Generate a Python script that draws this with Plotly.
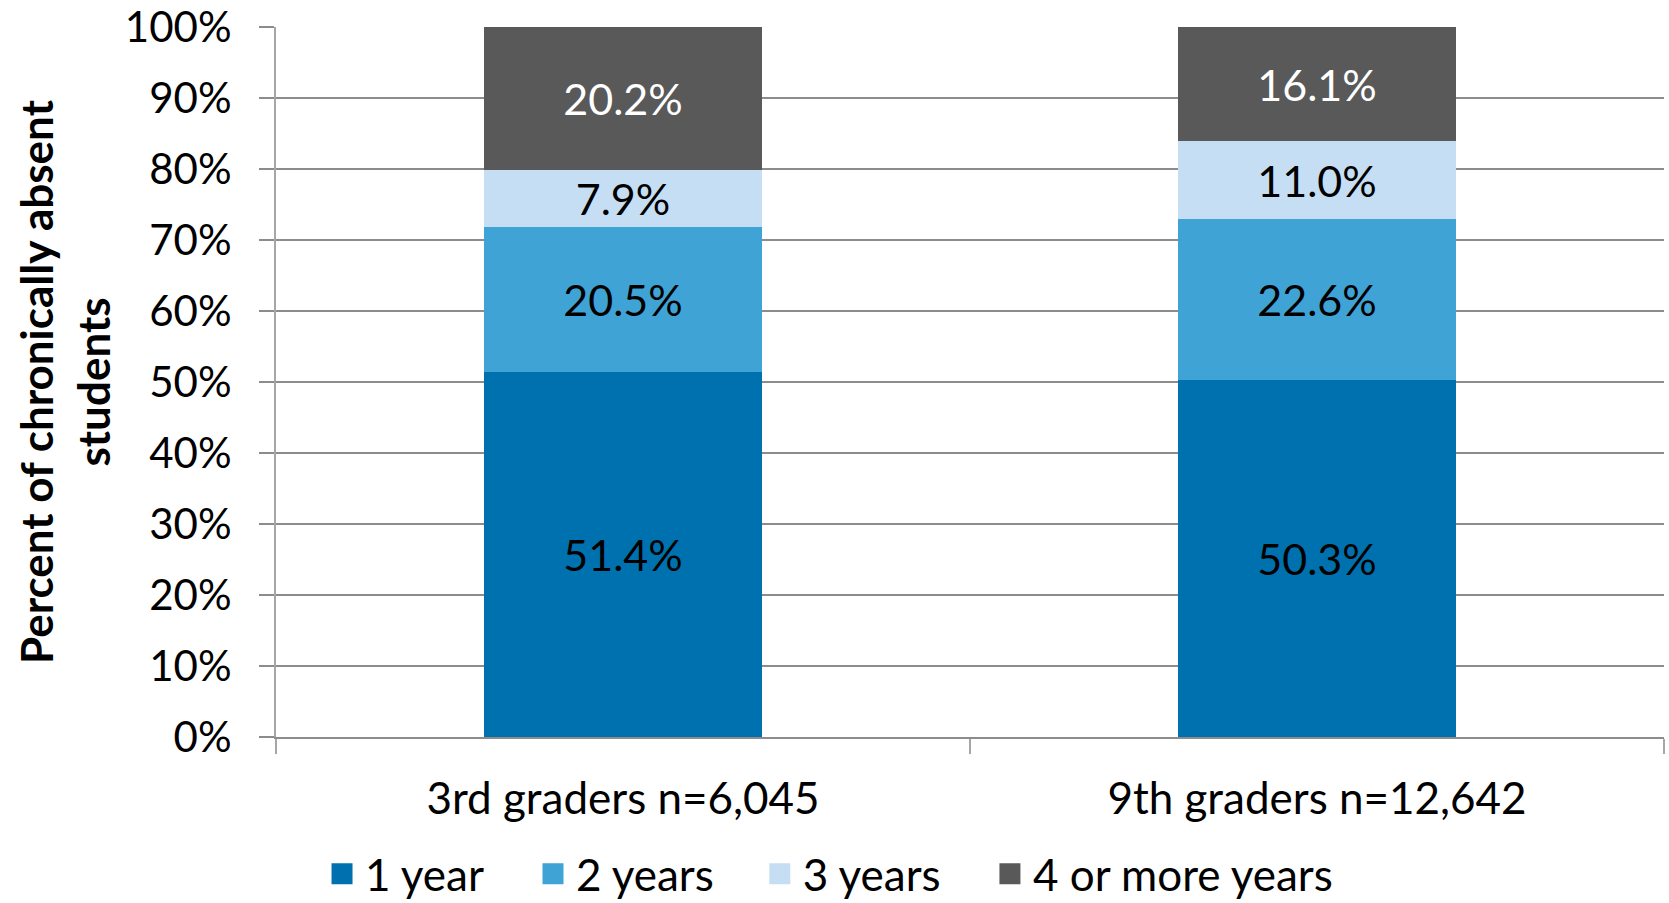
import plotly.graph_objects as go

categories = ["3rd graders n=6,045", "9th graders n=12,642"]
series_names = ["1 year", "2 years", "3 years", "4 or more years"]
one_year = [51.4, 50.3]
two_years = [20.5, 22.6]
three_years = [7.9, 11.0]
four_plus = [20.2, 16.1]
colors = ["#0071AF", "#3FA3D6", "#C6DEF4", "#595959"]
text_colors = ["black", "black", "black", "white"]
y_ticks = [0, 10, 20, 30, 40, 50, 60, 70, 80, 90, 100]

FONT = "Lato"
legend_ids = ["legend", "legend2", "legend3", "legend4"]
legend_x = [0.0310, 0.1830, 0.3464, 0.5122]

fig = go.Figure()
for name, vals, col, tc in zip(series_names, [one_year, two_years, three_years, four_plus], colors, text_colors):
    fig.add_trace(go.Bar(
        x=categories, y=vals, name=name, showlegend=False,
        marker=dict(color=col, line=dict(width=0)),
        texttemplate="%{y:.1f}%", textposition="inside", insidetextanchor="middle",
        textfont=dict(color=tc, size=43, family=FONT),
    ))

# legend-only entries (no marks drawn)
for name, col, lid in zip(series_names, colors, legend_ids):
    fig.add_trace(go.Scatter(
        x=[None], y=[None], mode="markers", name=name, legend=lid, showlegend=True,
        marker=dict(symbol="square", size=16, color=col, line=dict(color=col, width=5)),
        hoverinfo="skip",
    ))

legend_common = dict(orientation="h", xanchor="left", xref="paper",
                     yref="container", y=0.032, yanchor="middle",
                     font=dict(size=44, family=FONT, color="black"), itemclick=False,
                     itemwidth=36, bgcolor="rgba(0,0,0,0)")

fig.update_layout(
    barmode="stack", bargap=0.6,
    width=1669, height=903,
    margin=dict(l=276, r=5, t=27, b=166),
    paper_bgcolor="white", plot_bgcolor="white",
    font=dict(family=FONT, size=42, color="black"),
    uniformtext=dict(minsize=43, mode="show"),
    showlegend=True,
    yaxis=dict(range=[0, 100], tickvals=y_ticks, ticktext=[f"{v}%" for v in y_ticks],
               tickfont=dict(size=42, family=FONT), automargin=False,
               showgrid=True, gridcolor="#8C8C8C", gridwidth=2,
               ticks="outside", ticklen=15, tickcolor="#8C8C8C", tickwidth=2,
               ticklabelstandoff=19, ticklabeloverflow="allow",
               showline=True, linecolor="#A6A6A6", linewidth=2, zeroline=False,
               title=dict(text="<b>Percent of chronically absent<br>students</b>",
                          font=dict(size=44, family=FONT), standoff=0)),
    xaxis=dict(showline=True, linecolor="#8C8C8C", linewidth=2, automargin=False,
               tickfont=dict(size=44, family=FONT),
               ticks="outside", tickson="boundaries", ticklen=15, tickcolor="#A6A6A6", tickwidth=2,
               ticklabelstandoff=22, showgrid=False),
)
for lid, lx in zip(legend_ids, legend_x):
    fig.update_layout({lid: dict(x=lx, **legend_common)})

fig.write_html("out.html")
